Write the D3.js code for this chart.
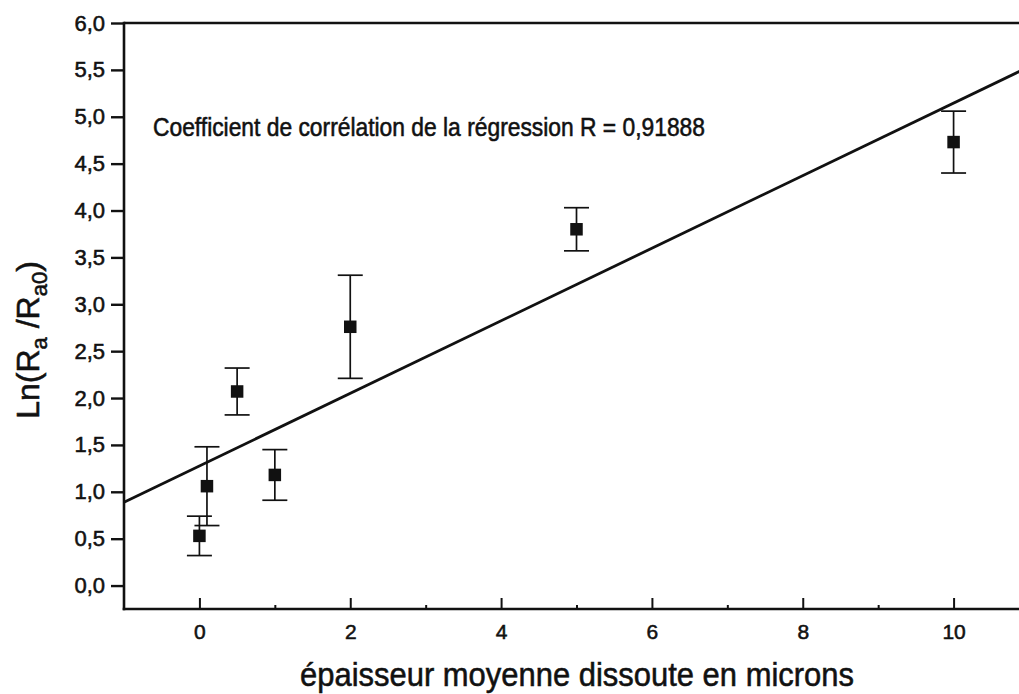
<!DOCTYPE html>
<html>
<head>
<meta charset="utf-8">
<script src="https://cdn.jsdelivr.net/npm/d3@7"></script>
<style>
  html, body { margin: 0; padding: 0; background: #fff; }
  svg { display: block; }
</style>
</head>
<body>
<svg id="chart" width="1019" height="694"></svg>
<script>
// ---- data ----
const xValues = [0, 0.1, 0.5, 1, 2, 5, 10];
const yValues = [0.53, 1.06, 2.07, 1.18, 2.76, 3.80, 4.73];
const yErrors = [0.21, 0.42, 0.25, 0.27, 0.55, 0.23, 0.33];
const xMajorTicks = [0, 2, 4, 6, 8, 10];
const xMinorTicks = [1, 3, 5, 7, 9];
const yTicks = [0, 0.5, 1, 1.5, 2, 2.5, 3, 3.5, 4, 4.5, 5, 5.5, 6];
const xDomain = [-1, 11];
const yDomain = [-0.25, 6];
const annotationText = "Coefficient de corrélation de la régression R = 0,91888";
const xTitle = "épaisseur moyenne dissoute en microns";

(function () {
// ---- layout ----
const pLeft = 124, pTop = 23, pBottom = 609, pRight = 1029;
const svg = d3.select("#chart");
const ink = "#111";
const font = "'Liberation Sans', Arial, sans-serif";
const textStroke = sel => sel.attr("stroke", ink).attr("stroke-width", 0.55).attr("paint-order", "stroke");

const x = d3.scaleLinear().domain(xDomain).range([pLeft, pRight]);
const y = d3.scaleLinear().domain(yDomain).range([pBottom, pTop]);
const fmt = v => d3.format(".1f")(v).replace(".", ",");

svg.append("rect").attr("width", 1019).attr("height", 694).attr("fill", "#fff");

// top frame line
svg.append("line")
  .attr("x1", pLeft).attr("x2", 1019)
  .attr("y1", y(yDomain[1])).attr("y2", y(yDomain[1]))
  .attr("stroke", ink).attr("stroke-width", 2.6);

// y axis
const yAxis = svg.append("g")
  .attr("transform", `translate(${pLeft},0)`)
  .call(d3.axisLeft(y).tickValues(yTicks).tickFormat(fmt).tickSize(13).tickPadding(6));
yAxis.select(".domain").remove();
yAxis.selectAll(".tick line").attr("stroke", ink).attr("stroke-width", 2.4);
yAxis.selectAll(".tick text").attr("fill", ink).style("font-family", font).style("font-size", "22px").call(textStroke);
svg.append("line")
  .attr("x1", pLeft).attr("x2", pLeft).attr("y1", pTop - 1.3).attr("y2", pBottom + 1.3)
  .attr("stroke", ink).attr("stroke-width", 2.6);

// x axis (ticks inward)
const xAxis = svg.append("g")
  .attr("transform", `translate(0,${pBottom})`)
  .call(d3.axisBottom(x).tickValues(xMajorTicks).tickFormat(d3.format("d")).tickSize(-11).tickPadding(15));
xAxis.select(".domain").remove();
xAxis.selectAll(".tick line").attr("stroke", ink).attr("stroke-width", 2);
xAxis.selectAll(".tick text").attr("fill", ink).style("font-family", font).style("font-size", "21px").call(textStroke);
const xMinor = svg.append("g")
  .attr("transform", `translate(0,${pBottom})`)
  .call(d3.axisBottom(x).tickValues(xMinorTicks).tickFormat("").tickSize(-4));
xMinor.select(".domain").remove();
xMinor.selectAll(".tick line").attr("stroke", ink).attr("stroke-width", 2);
svg.append("line")
  .attr("x1", pLeft - 1.3).attr("x2", 1019).attr("y1", pBottom).attr("y2", pBottom)
  .attr("stroke", ink).attr("stroke-width", 2.6);

// regression line (least squares from the data)
const mx = d3.mean(xValues), my = d3.mean(yValues);
const sxy = d3.sum(xValues.map((v, i) => (v - mx) * (yValues[i] - my)));
const sxx = d3.sum(xValues.map(v => (v - mx) * (v - mx)));
const slope = sxy / sxx, intercept = my - slope * mx;
const lineGen = d3.line().x(d => x(d)).y(d => y(intercept + slope * d));
svg.append("path")
  .attr("d", lineGen(xDomain))
  .attr("fill", "none").attr("stroke", ink).attr("stroke-width", 2.8);

// error bars
const pts = xValues.map((v, i) => ({ x: v, y: yValues[i], e: yErrors[i] }));
const eb = svg.append("g").attr("stroke", ink).attr("stroke-width", 1.7);
eb.selectAll("line.v").data(pts).join("line").attr("class", "v")
  .attr("x1", d => x(d.x)).attr("x2", d => x(d.x))
  .attr("y1", d => y(d.y + d.e)).attr("y2", d => y(d.y - d.e));
eb.selectAll("line.t").data(pts).join("line").attr("class", "t")
  .attr("x1", d => x(d.x) - 12.5).attr("x2", d => x(d.x) + 12.5)
  .attr("y1", d => y(d.y + d.e)).attr("y2", d => y(d.y + d.e));
eb.selectAll("line.b").data(pts).join("line").attr("class", "b")
  .attr("x1", d => x(d.x) - 12.5).attr("x2", d => x(d.x) + 12.5)
  .attr("y1", d => y(d.y - d.e)).attr("y2", d => y(d.y - d.e));

// markers
svg.append("g").selectAll("rect").data(pts).join("rect")
  .attr("x", d => x(d.x) - 6.25).attr("y", d => y(d.y) - 6.25)
  .attr("width", 12.5).attr("height", 12.5).attr("fill", ink);

// annotation
svg.append("text")
  .attr("x", 153).attr("y", 136)
  .attr("textLength", 552).attr("lengthAdjust", "spacingAndGlyphs")
  .style("font-family", font).style("font-size", "25px").attr("fill", ink)
  .call(textStroke)
  .text(annotationText);

// x title
svg.append("text")
  .attr("x", 300).attr("y", 686)
  .attr("textLength", 554).attr("lengthAdjust", "spacingAndGlyphs")
  .style("font-family", font).style("font-size", "33px").attr("fill", ink)
  .call(textStroke)
  .text(xTitle);

// y title
const yt = svg.append("text")
  .attr("transform", "translate(39,340) rotate(-90)")
  .attr("text-anchor", "middle")
  .style("font-family", font).style("font-size", "32px").attr("fill", ink)
  .call(textStroke);
yt.append("tspan").text("Ln(R");
yt.append("tspan").attr("dy", 8).style("font-size", "22px").text("a");
yt.append("tspan").attr("dy", -8).text(" /R");
yt.append("tspan").attr("dy", 8).style("font-size", "22px").text("a0");
yt.append("tspan").attr("dy", -8).text(")");
})();
</script>
</body>
</html>
